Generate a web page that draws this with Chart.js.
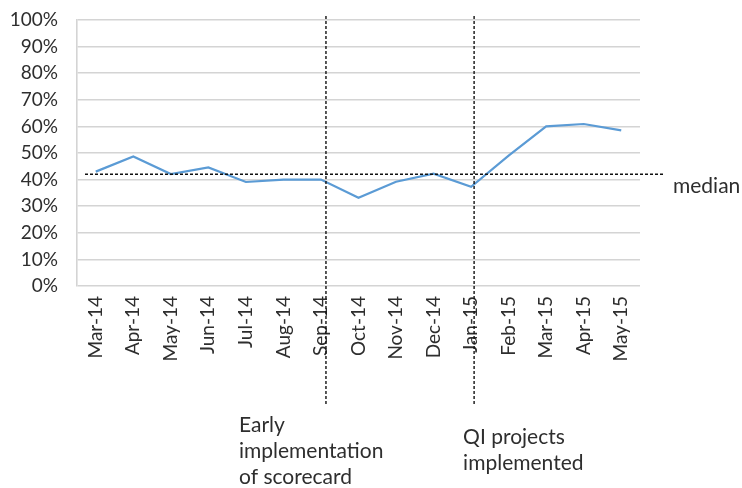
<!DOCTYPE html>
<html>
<head>
<meta charset="utf-8">
<script src="https://cdn.jsdelivr.net/npm/chart.js@4"></script>
<style>
  html, body { margin: 0; padding: 0; background: #fff; }
  #wrap { width: 742px; height: 488px; }
</style>
</head>
<body>
<div id="wrap"><canvas id="c" width="742" height="488"></canvas></div>
<script>
// Monthly rate, March 2014 to May 2015
const months = ['Mar-14', 'Apr-14', 'May-14', 'Jun-14', 'Jul-14', 'Aug-14', 'Sep-14',
                'Oct-14', 'Nov-14', 'Dec-14', 'Jan-15', 'Feb-15', 'Mar-15', 'Apr-15', 'May-15'];
const rate = [0.43, 0.487, 0.421, 0.446, 0.391, 0.40, 0.40,
              0.332, 0.392, 0.422, 0.373, 0.49, 0.60, 0.609, 0.585];
const median = 0.42;
const yTicks = [0, 0.1, 0.2, 0.3, 0.4, 0.5, 0.6, 0.7, 0.8, 0.9, 1.0];

// Milestones marked with vertical dashed lines, and their captions
const milestones = [
  { month: 'Sep-14', lines: ['Early', 'implementation', 'of scorecard'] },
  { month: 'Jan-15', lines: ['QI projects', 'implemented'] }
];

const FONT = 'Lato, "Open Sans", sans-serif';
const TEXT = '#2e2e2e';

const overlay = {
  id: 'overlay',
  afterDatasetsDraw(chart) {
    const { ctx, chartArea, scales } = chart;
    const x = scales.x, y = scales.y;
    ctx.save();
    ctx.strokeStyle = '#111';
    ctx.lineWidth = 1.4;
    ctx.setLineDash([3, 2]);

    // median reference line
    const my = y.getPixelForValue(median);
    ctx.beginPath();
    ctx.moveTo(chartArea.left + 8, my);
    ctx.lineTo(chartArea.right + 23, my);
    ctx.stroke();

    // milestone lines
    const xs = milestones.map((m, i) => x.getPixelForValue(months.indexOf(m.month)) + (i === 0 ? 5 : 3));
    xs.forEach(px => {
      ctx.beginPath();
      ctx.moveTo(px, chartArea.top - 4);
      ctx.lineTo(px, 406);
      ctx.stroke();
    });
    ctx.setLineDash([]);

    // captions
    ctx.fillStyle = TEXT;
    ctx.font = '21px ' + FONT;
    ctx.textBaseline = 'middle';
    ctx.textAlign = 'left';
    ctx.fillText('median', chartArea.right + 33, my + 12);

    milestones[0].lines.forEach((t, k) => ctx.fillText(t, xs[0] - 87, 425 + k * 26));
    milestones[1].lines.forEach((t, k) => ctx.fillText(t, xs[1] - 11, 437 + k * 26));
    ctx.restore();
  }
};

new Chart(document.getElementById('c'), {
  type: 'line',
  data: {
    labels: months,
    datasets: [{
      data: rate,
      borderColor: '#5b9bd5',
      borderWidth: 2.2,
      pointRadius: 0,
      tension: 0,
      fill: false
    }]
  },
  options: {
    responsive: false,
    animation: false,
    layout: { padding: { top: 20, right: 102, left: 0, bottom: 0 } },
    plugins: { legend: { display: false }, tooltip: { enabled: false } },
    scales: {
      x: {
        type: 'category',
        offset: true,
        grid: { display: false, drawTicks: false },
        border: { display: false },
        ticks: {
          minRotation: 90, maxRotation: 90, autoSkip: false,
          padding: 10, color: TEXT,
          font: { family: FONT, size: 19 }
        },
        afterFit(s) { s.height = 202; s.paddingLeft = 0; s.paddingRight = 0; }
      },
      y: {
        min: 0, max: 1,
        afterBuildTicks(s) { s.ticks = yTicks.map(v => ({ value: v })); },
        grid: { color: '#d4d4d4', lineWidth: 1.6, drawTicks: false },
        border: { display: true, color: '#d4d4d4', width: 1.6 },
        ticks: {
          autoSkip: false,
          padding: 19, color: TEXT,
          font: { family: FONT, size: 19 },
          callback: v => Math.round(v * 100) + '%'
        },
        afterFit(s) { s.width = 77; s.paddingTop = 0; s.paddingBottom = 0; }
      }
    }
  },
  plugins: [overlay]
});
</script>
</body>
</html>
